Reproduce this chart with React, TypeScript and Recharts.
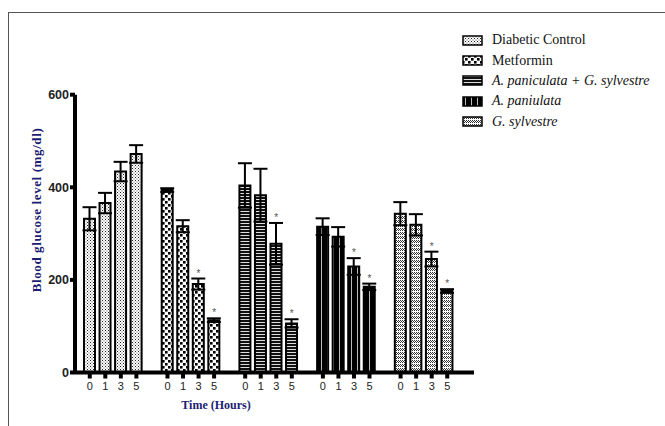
import { Bar, Cell, ComposedChart, ErrorBar, Scatter, XAxis, YAxis } from "recharts"

const TIMES = ["0", "1", "3", "5"]
const GROUPS = [
  "Diabetic Control",
  "Metformin",
  "A. paniculata + G. sylvestre",
  "A. paniulata",
  "G. sylvestre",
]
const ITALIC = [false, false, true, true, true]
const Y_TICKS = [0, 200, 400, 600]

// mean blood glucose (mg/dl) at 0, 1, 3, 5 h
const DIABETIC = [332, 366, 434, 472]
const DIABETIC_ERR = [25, 22, 21, 19]
const METFORMIN = [394, 316, 191, 113]
const METFORMIN_ERR = [4, 13, 12, 4]
const AP_GS = [404, 383, 278, 106]
const AP_GS_ERR = [48, 57, 45, 9]
const AP = [315, 293, 229, 185]
const AP_ERR = [18, 21, 18, 7]
const GS = [343, 319, 245, 176]
const GS_ERR = [25, 23, 16, 4]
// significant vs. diabetic control
const STARS = [
  [false, false, false, false],
  [false, false, true, true],
  [false, false, true, true],
  [false, false, true, true],
  [false, false, true, true],
]

const VALUES = [DIABETIC, METFORMIN, AP_GS, AP, GS]
const ERRORS = [DIABETIC_ERR, METFORMIN_ERR, AP_GS_ERR, AP_ERR, GS_ERR]

const rows: any[] = []
VALUES.forEach((vals, g) => {
  if (g > 0) rows.push({ t: "", value: null, err: null, group: -1, star: null })
  vals.forEach((v, i) => {
    rows.push({
      t: TIMES[i],
      value: v,
      err: ERRORS[g][i],
      group: g,
      star: STARS[g][i] ? v + ERRORS[g][i] : null,
    })
  })
})

const NAVY = "#1c1c72"
const SERIF = "'Liberation Serif', 'Times New Roman', serif"

function Patterns() {
  return (
    <svg width={0} height={0} style={{ position: "absolute" }}>
      <defs>
        <pattern id="pat0" width={3} height={3} patternUnits="userSpaceOnUse">
          <rect width={3} height={3} fill="#fff" />
          <rect x={0} y={0} width={1} height={1} fill="#222" />
          <rect x={1.5} y={1.5} width={1} height={1} fill="#555" />
        </pattern>
        <pattern id="pat1" width={6} height={6} patternUnits="userSpaceOnUse">
          <rect width={6} height={6} fill="#fff" />
          <rect x={0} y={0} width={2.6} height={2.6} fill="#000" />
          <rect x={3} y={3} width={2.6} height={2.6} fill="#000" />
        </pattern>
        <pattern id="pat2" width={4} height={3} patternUnits="userSpaceOnUse">
          <rect width={4} height={3} fill="#111" />
          <rect x={0} y={1} width={4} height={1} fill="#ddd" />
        </pattern>
        <pattern id="pat3" width={6} height={4} patternUnits="userSpaceOnUse">
          <rect width={6} height={4} fill="#000" />
          <rect x={3} y={0} width={1} height={4} fill="#bbb" />
        </pattern>
        <pattern id="pat4" width={4} height={4} patternUnits="userSpaceOnUse">
          <rect width={4} height={4} fill="#fff" />
          <rect x={0} y={0} width={1} height={1} fill="#333" />
          <rect x={2} y={0} width={1} height={1} fill="#333" />
          <rect x={1} y={1} width={1} height={1} fill="#333" />
          <rect x={3} y={1} width={1} height={1} fill="#333" />
          <rect x={0} y={2} width={1} height={1} fill="#333" />
          <rect x={2} y={2} width={1} height={1} fill="#333" />
        </pattern>
      </defs>
    </svg>
  )
}

function TimeTick({ x, y, payload }: any) {
  if (!payload || !payload.value) return <g />
  return (
    <g>
      <rect x={x - 2} y={y} width={4} height={6} fill="#000" />
      <text
        x={x}
        y={y + 17}
        textAnchor="middle"
        fontSize={11}
        fontFamily="'Liberation Sans Narrow', 'Liberation Sans', Arial, sans-serif"
        fill="#222"
      >
        {payload.value}
      </text>
    </g>
  )
}

function Star({ cx, cy, payload }: any) {
  if (!payload || payload.star == null || cy == null || isNaN(cy)) return <g />
  return (
    <text x={cx} y={cy - 2} textAnchor="middle" fontSize={10} fontFamily="Arial, sans-serif" fill="#555">
      *
    </text>
  )
}

function YTitle() {
  return (
    <text
      transform="translate(36,210) rotate(-90)"
      textAnchor="middle"
      dominantBaseline="central"
      fontFamily={SERIF}
      fontWeight={700}
      fontSize={13}
      letterSpacing={0.6}
      fill={NAVY}
    >
      Blood glucose level (mg/dl)
    </text>
  )
}

function XTitle() {
  return (
    <text x={216} y={409} textAnchor="middle" fontFamily={SERIF} fontWeight={700} fontSize={12} fill={NAVY}>
      Time (Hours)
    </text>
  )
}

function ChartLegend() {
  return (
    <div style={{ position: "absolute", left: 462, top: 30 }}>
      {GROUPS.map((name, g) => (
        <div key={name} style={{ display: "flex", alignItems: "center", height: 20.4 }}>
          <svg width={21} height={11} style={{ display: "block" }}>
            <rect x={1} y={1} width={19} height={9} fill={`url(#pat${g})`} stroke="#000" strokeWidth={1.5} />
          </svg>
          <span
            style={{
              marginLeft: 9,
              fontFamily: SERIF,
              fontSize: 14,
              fontStyle: ITALIC[g] ? "italic" : "normal",
              color: "#111",
              whiteSpace: "nowrap",
            }}
          >
            {name}
          </span>
        </div>
      ))}
    </div>
  )
}

export default function App() {
  return (
    <div style={{ position: "absolute", left: 0, top: 0, width: 665, height: 426, background: "#fff", overflow: "hidden" }}>
      <div
        style={{
          position: "absolute",
          left: 8,
          top: 12,
          width: 657,
          height: 414,
          borderTop: "1px solid #555",
          borderLeft: "1px solid #555",
        }}
      />
      <Patterns />
      <div style={{ position: "absolute", left: 0, top: 0 }}>
        <ComposedChart
          width={665}
          height={426}
          data={rows}
          margin={{ top: 94.7, right: 191, bottom: 23.5, left: 35 }}
        >
          <XAxis
            dataKey="t"
            interval={0}
            padding={{ left: 7, right: 19 }}
            axisLine={{ stroke: "#000", strokeWidth: 4 }}
            tickLine={false}
            tickSize={0}
            tickMargin={0}
            tick={<TimeTick />}
            height={30}
            label={<XTitle />}
          />
          <YAxis
            domain={[0, 600]}
            ticks={Y_TICKS}
            width={40}
            axisLine={{ stroke: "#000", strokeWidth: 4 }}
            tickLine={{ stroke: "#000", strokeWidth: 4 }}
            tickSize={5}
            tickMargin={1}
            tick={{ fontSize: 12.5, fontWeight: 700, fill: "#222", fontFamily: "'Liberation Sans', Arial, sans-serif" }}
            label={<YTitle />}
          />
          <Bar dataKey="value" barSize={11} isAnimationActive={false}>
            {rows.map((r, i) => (
              <Cell key={i} fill={r.group >= 0 ? `url(#pat${r.group})` : "none"} stroke="#000" strokeWidth={2} />
            ))}
            <ErrorBar dataKey="err" width={7} strokeWidth={2} stroke="#000" direction="y" />
          </Bar>
          <Scatter dataKey="star" shape={<Star />} isAnimationActive={false} />
        </ComposedChart>
      </div>
      <ChartLegend />
    </div>
  )
}
